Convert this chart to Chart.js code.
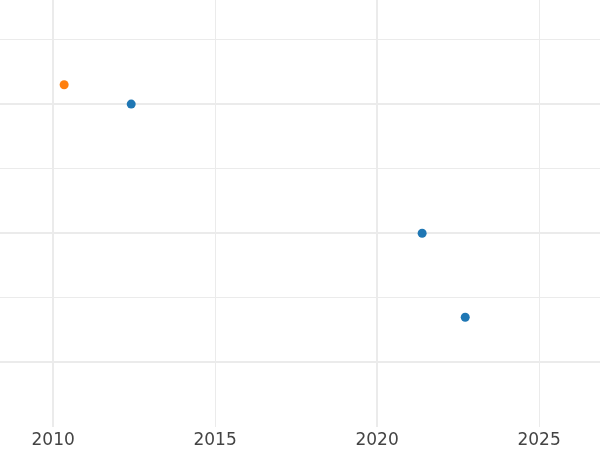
<!DOCTYPE html>
<html>
<head>
<meta charset="utf-8">
<script src="https://cdn.jsdelivr.net/npm/chart.js@4/dist/chart.umd.min.js"></script>
<style>
  html, body { margin: 0; padding: 0; background: #fff; }
  #wrap { width: 600px; height: 450px; }
</style>
</head>
<body>
<div id="wrap"><canvas id="chart"></canvas></div>
<script>
// two groups of points: year -> value
var orangeX = [2010.34];
var orangeY = [2.15];
var blueX = [2012.41, 2021.39, 2022.72];
var blueY = [2.0, 1.0, 0.35];

function pts(xs, ys) {
  return xs.map(function (x, i) { return { x: x, y: ys[i] }; });
}

function keepSteps(step) {
  return function (scale) {
    scale.ticks = scale.ticks.filter(function (t) {
      var r = t.value / step;
      return Math.abs(r - Math.round(r)) < 1e-6 && t.value > scale.min && t.value < scale.max;
    });
  };
}

var ctx = document.getElementById('chart');
var myChart = new Chart(ctx, {
  type: 'scatter',
  data: {
    datasets: [{
      data: pts(blueX, blueY),
      backgroundColor: '#1f77b4',
      borderWidth: 0,
      pointRadius: 4.5
    }, {
      data: pts(orangeX, orangeY),
      backgroundColor: '#ff7f0e',
      borderWidth: 0,
      pointRadius: 4.5
    }]
  },
  options: {
    responsive: true,
    maintainAspectRatio: false,
    animation: false,
    layout: { padding: 0, autoPadding: false },
    plugins: {
      legend: { display: false },
      tooltip: { enabled: false }
    },
    scales: {
      x: {
        type: 'linear',
        min: 2008.36,
        max: 2026.88,
        afterBuildTicks: keepSteps(5),
        afterFit: function (scale) { scale.height = 23; },
        border: { display: false },
        grid: {
          drawTicks: false,
          color: '#ebebeb',
          lineWidth: function (c) { return c.tick && c.tick.value % 10 === 0 ? 2 : 1; }
        },
        ticks: {
          stepSize: 5,
          includeBounds: false,
          autoSkip: false,
          maxRotation: 0,
          padding: 3,
          color: '#444',
          font: { family: 'DejaVu Sans', size: 17 },
          callback: function (v) { return String(v); }
        }
      },
      y: {
        min: -0.5,
        max: 2.806,
        afterBuildTicks: keepSteps(0.5),
        border: { display: false },
        grid: {
          drawTicks: false,
          color: '#ebebeb',
          lineWidth: function (c) { return c.tick && Number.isInteger(c.tick.value) ? 2 : 1; }
        },
        ticks: { display: false, stepSize: 0.5, includeBounds: false }
      }
    }
  }
});
</script>
</body>
</html>
